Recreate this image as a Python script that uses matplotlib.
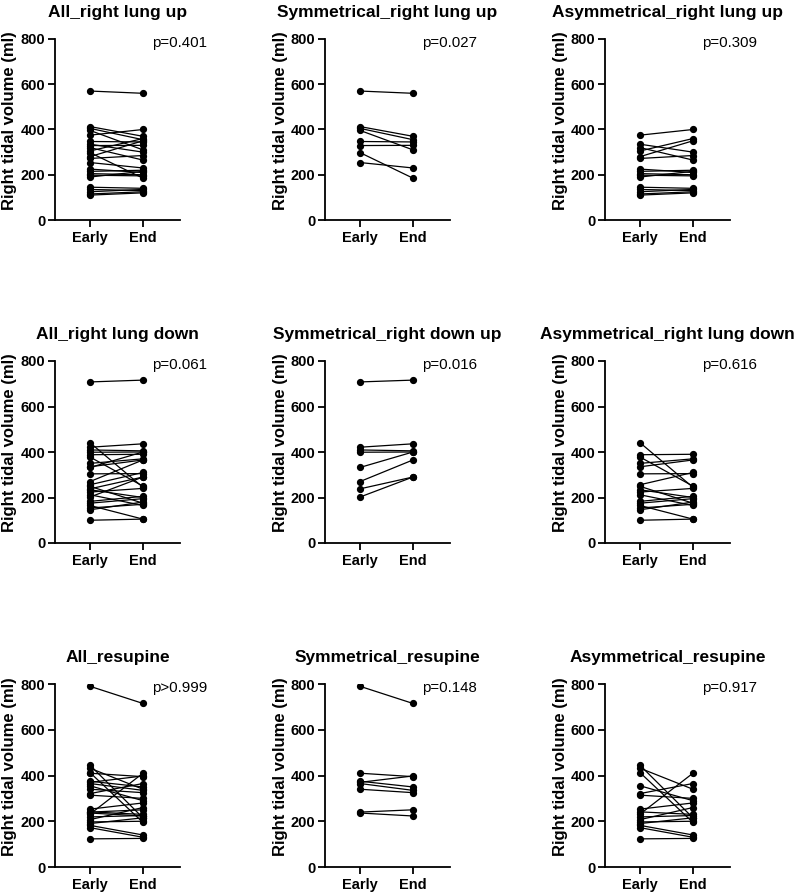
import matplotlib.pyplot as plt

plt.rcParams['font.family'] = ['Liberation Sans', 'DejaVu Sans']

groups = ['Early', 'End']

# right lung up
sym_up_early = [570, 413, 405, 396, 347, 329, 298, 254]
sym_up_end = [560, 370, 355, 310, 345, 330, 185, 230]
asym_up_early = [375, 335, 320, 305, 280, 272, 225, 215, 205, 198, 190, 145, 135, 125, 115, 110]
asym_up_end = [400, 300, 265, 360, 350, 285, 210, 220, 200, 195, 215, 140, 130, 135, 125, 120]

# right lung down
sym_down_early = [708, 421, 409, 399, 332, 270, 238, 202]
sym_down_end = [716, 436, 405, 400, 400, 365, 290, 290]
asym_down_early = [441, 388, 378, 350, 335, 304, 256, 249, 234, 224, 212, 183, 175, 165, 154, 146, 100]
asym_down_end = [245, 390, 250, 370, 365, 305, 310, 175, 200, 240, 165, 205, 195, 105, 170, 180, 105]

# resupine
sym_res_early = [790, 410, 375, 370, 365, 340, 240, 236]
sym_res_end = [715, 395, 350, 398, 335, 325, 250, 223]
asym_res_early = [445, 432, 413, 355, 321, 314, 253, 241, 231, 219, 207, 197, 190, 182, 172, 123]
asym_res_end = [215, 340, 195, 290, 365, 300, 280, 230, 410, 225, 260, 200, 215, 140, 130, 125]

panels = [
    ('All_right lung up', sym_up_early + asym_up_early, sym_up_end + asym_up_end, 'p=0.401'),
    ('Symmetrical_right lung up', sym_up_early, sym_up_end, 'p=0.027'),
    ('Asymmetrical_right lung up', asym_up_early, asym_up_end, 'p=0.309'),
    ('All_right lung down', sym_down_early + asym_down_early, sym_down_end + asym_down_end, 'p=0.061'),
    ('Symmetrical_right down up', sym_down_early, sym_down_end, 'p=0.016'),
    ('Asymmetrical_right lung down', asym_down_early, asym_down_end, 'p=0.616'),
    ('All_resupine', sym_res_early + asym_res_early, sym_res_end + asym_res_end, 'p>0.999'),
    ('Symmetrical_resupine', sym_res_early, sym_res_end, 'p=0.148'),
    ('Asymmetrical_resupine', asym_res_early, asym_res_end, 'p=0.917'),
]

W, H = 797, 896
fig = plt.figure(figsize=(W / 100, H / 100), dpi=100)

rows = [(39, 220), (361, 543), (684, 867)]
cols = [55, 325, 605]
aw = 125

for i, (title, early, end, ptxt) in enumerate(panels):
    top, bot = rows[i // 3]
    left = cols[i % 3]
    ax = fig.add_axes([left / W, 1 - bot / H, aw / W, (bot - top) / H])
    for a, b in zip(early, end):
        ax.plot([0, 1], [a, b], color='black', lw=0.9, marker='o', ms=4.2, zorder=3)
    ax.set_xlim(-0.66, 1.7)
    ax.set_ylim(0, 800)
    ax.set_yticks([0, 200, 400, 600, 800])
    ax.set_xticks([0, 1])
    ax.set_xticklabels(groups)
    ax.spines['top'].set_visible(False)
    ax.spines['right'].set_visible(False)
    for s in ['left', 'bottom']:
        ax.spines[s].set_linewidth(1.3)
    ax.tick_params(axis='both', length=5, width=1.3, labelsize=10.5, pad=2)
    ax.tick_params(axis='x', pad=11)
    for lab in ax.get_xticklabels():
        lab.set_verticalalignment('baseline')
    for lab in ax.get_xticklabels() + ax.get_yticklabels():
        lab.set_fontweight('bold')
    ax.set_ylabel('Right tidal volume (ml)', fontsize=12, fontweight='bold')
    ax.yaxis.set_label_coords(-0.30, 0.55)
    ax.set_title(title, fontsize=12.5, fontweight='bold', pad=16)
    ax.text(1.17, 782, ptxt, fontsize=10.8, ha='left', va='center')

plt.savefig('out.png', dpi=100)
